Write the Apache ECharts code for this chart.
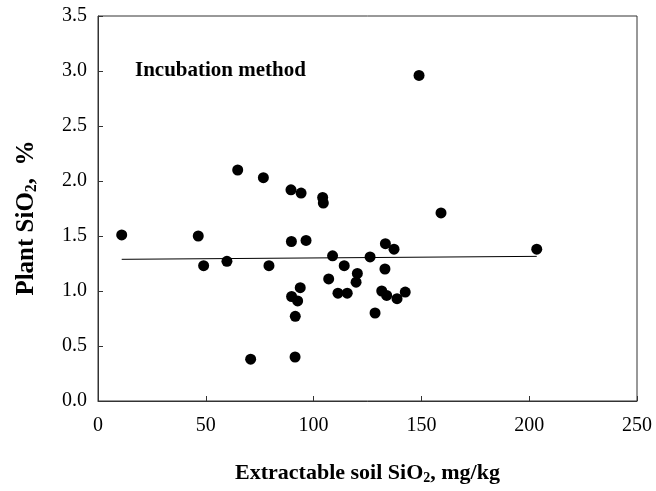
<!DOCTYPE html>
<html>
<head>
<meta charset="utf-8">
<script src="https://cdn.jsdelivr.net/npm/echarts@6/dist/echarts.min.js"></script>
<style>html,body{margin:0;padding:0;background:#fff}#c{width:656px;height:491px}</style>
</head>
<body>
<div id="c"></div>
<script>
const soilSiO2 = [11, 46.5, 49, 59.8, 64.8, 70.8, 76.7, 79.3, 89.5, 89.7, 89.8, 91.4, 91.5, 92.6, 93.8, 94.2, 96.5, 104.2, 104.5, 107, 108.8, 111.3, 114.2, 115.6, 119.7, 120.3, 126.2, 128.5, 131.6, 133.1, 133.3, 133.9, 137.3, 138.7, 142.5, 148.9, 159.1, 203.5];
const plantSiO2 = [1.51, 1.50, 1.23, 1.27, 2.10, 0.38, 2.03, 1.23, 1.92, 1.45, 0.95, 0.40, 0.77, 0.91, 1.03, 1.89, 1.46, 1.85, 1.80, 1.11, 1.32, 0.98, 1.23, 0.98, 1.08, 1.16, 1.31, 0.80, 1.00, 1.20, 1.43, 0.96, 1.38, 0.93, 0.99, 2.96, 1.71, 1.38];
const trendX = [11, 203.5];
const trendY = [1.288, 1.315];
const xTicks = [0, 50, 100, 150, 200, 250];
const yTicks = [0.0, 0.5, 1.0, 1.5, 2.0, 2.5, 3.0, 3.5];

const chart = echarts.init(document.getElementById('c'));
const serif = '"Liberation Serif", "DejaVu Serif", serif';
const subRich = { sub: { fontFamily: serif, fontSize: 14, fontWeight: 'bold', verticalAlign: 'bottom', padding: [9, 0, 0, 0] } };
chart.setOption({
  animation: false,
  grid: { left: 98, top: 16, right: 19, bottom: 90, show: true, borderColor: '#333', borderWidth: 1 },
  xAxis: {
    type: 'value', min: xTicks[0], max: xTicks[xTicks.length - 1], interval: 50,
    axisLine: { lineStyle: { color: '#333' } },
    axisTick: { inside: true, length: 5, lineStyle: { color: '#333' } },
    axisLabel: { margin: 15, color: '#000', fontFamily: serif, fontSize: 20 },
    splitLine: { show: false },
    name: 'Extractable soil SiO{sub|2}, mg/kg',
    nameLocation: 'middle', nameGap: 61,
    nameTextStyle: { color: '#000', fontFamily: serif, fontSize: 22, fontWeight: 'bold', rich: subRich }
  },
  yAxis: {
    type: 'value', min: yTicks[0], max: yTicks[yTicks.length - 1], interval: 0.5,
    axisLine: { lineStyle: { color: '#333' } },
    axisTick: { inside: true, length: 5, lineStyle: { color: '#333' } },
    axisLabel: { margin: 11, color: '#000', fontFamily: serif, fontSize: 20, formatter: v => v.toFixed(1) },
    splitLine: { show: false }
  },
  graphic: [{
    type: 'text', left: 135, top: 60,
    style: { text: 'Incubation method', font: 'bold 21px ' + serif, fill: '#000' }
  }, {
    type: 'text', x: 27, y: 218, rotation: Math.PI / 2,
    style: {
      text: 'Plant SiO{sub|2},  %', font: 'bold 25px ' + serif, fill: '#000',
      align: 'center', verticalAlign: 'middle',
      rich: { sub: { font: 'bold 16px ' + serif, fill: '#000', verticalAlign: 'bottom', padding: [10, 0, 0, 0] } }
    }
  }],
  series: [
    {
      type: 'line', data: trendX.map((x, i) => [x, trendY[i]]),
      showSymbol: false, symbol: 'none', lineStyle: { color: '#000', width: 1 }, z: 1
    },
    {
      type: 'scatter', data: soilSiO2.map((x, i) => [x, plantSiO2[i]]),
      symbolSize: 11, itemStyle: { color: '#000', opacity: 1 }, z: 2
    }
  ]
});
</script>
</body>
</html>
